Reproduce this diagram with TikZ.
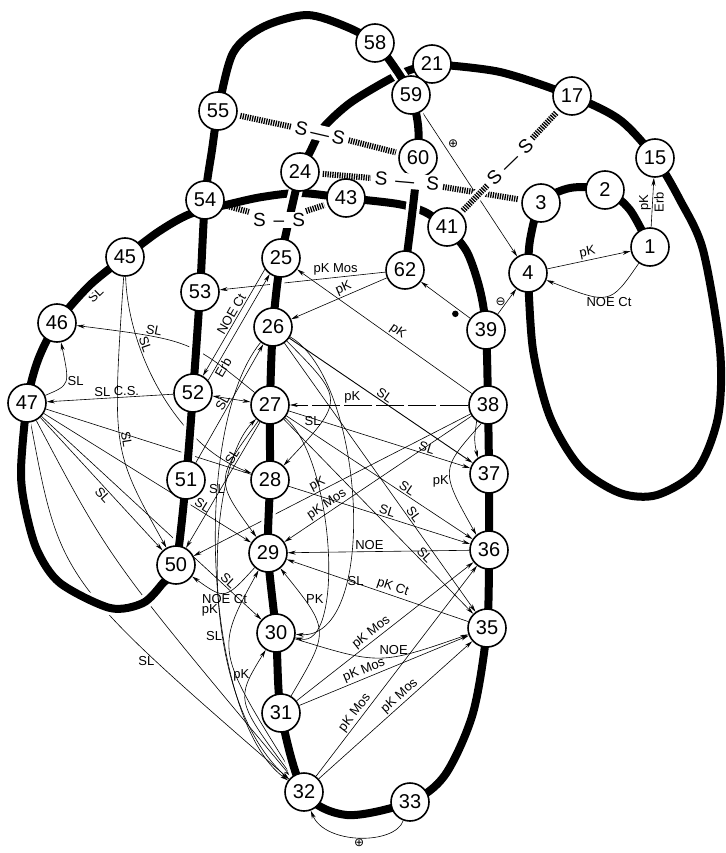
\documentclass[tikz,border=0pt]{standalone}
\usepackage{fontspec}
\setmainfont{Liberation Sans}
\newfontfamily\dejavu{DejaVu Sans}
\usetikzlibrary{arrows.meta}
\pgfdeclarelayer{links}
\pgfdeclarelayer{backbone}
\pgfsetlayers{links,backbone,main}

\begin{document}
\begin{tikzpicture}[x=1pt,y=-1pt,>={Stealth[length=8pt,width=4pt]}]
  \tikzstyle{res}=[draw, circle, line width=1.6pt, fill=white, minimum size=38pt, inner sep=0pt, font=\fontsize{20}{20}\selectfont]
  \tikzstyle{strand}=[line width=8pt, line join=round, preaction={draw, white, line width=14pt}]
  \tikzstyle{bond}=[line width=6pt, dash pattern=on 1.3pt off 1.1pt, shorten >=3pt, shorten <=3pt]
  \tikzstyle{ss}=[fill=white, inner sep=1pt, font=\fontsize{19}{19}\selectfont]
  \tikzstyle{lnk}=[->, line width=0.6pt]
  \tikzstyle{lbl}=[font=\fontsize{13}{13}\selectfont, inner sep=1.5pt]
  \tikzstyle{chg}=[font=\dejavu\fontsize{12}{12}\selectfont, inner sep=1pt]
  \tikzstyle{dot}=[circle, fill, inner sep=2.3pt]
  \useasboundingbox (0,0) rectangle (725,853);

  % residues
  \node[res] (r1) at (650,247) {1};
  \node[res] (r2) at (605,190) {2};
  \node[res] (r3) at (541,203) {3};
  \node[res] (r4) at (528,273) {4};
  \node[res] (r15) at (655,158) {15};
  \node[res] (r17) at (572,96) {17};
  \node[res] (r21) at (432,64) {21};
  \node[res] (r24) at (300,172) {24};
  \node[res] (r25) at (281,258) {25};
  \node[res] (r26) at (273,327) {26};
  \node[res] (r27) at (270,405) {27};
  \node[res] (r28) at (270,480) {28};
  \node[res] (r29) at (268,553) {29};
  \node[res] (r30) at (276,633) {30};
  \node[res] (r31) at (281,713) {31};
  \node[res] (r32) at (304,792) {32};
  \node[res] (r33) at (410,802) {33};
  \node[res] (r35) at (487,628) {35};
  \node[res] (r36) at (489,550) {36};
  \node[res] (r37) at (489,474) {37};
  \node[res] (r38) at (488,405) {38};
  \node[res] (r39) at (486,330) {39};
  \node[res] (r41) at (447,227) {41};
  \node[res] (r43) at (346,198) {43};
  \node[res] (r45) at (125,257) {45};
  \node[res] (r46) at (57,323) {46};
  \node[res] (r47) at (27,403) {47};
  \node[res] (r50) at (176,565) {50};
  \node[res] (r51) at (186,480) {51};
  \node[res] (r52) at (193,393) {52};
  \node[res] (r53) at (200,292) {53};
  \node[res] (r54) at (205,200) {54};
  \node[res] (r55) at (218,111) {55};
  \node[res] (r58) at (375,43) {58};
  \node[res] (r59) at (411,95) {59};
  \node[res] (r60) at (418,158) {60};
  \node[res] (r62) at (405,270) {62};

  % disulfide bridges
  \node[ss, rotate=-13] (ss1) at (320,133) {S\,—\,S};
  \node[ss, rotate=-5] (ss2) at (407,181) {S\hspace{8pt}—\hspace{12pt}S};
  \node[ss] (ss3) at (279,220) {S\hspace{8pt}–\hspace{8pt}S};
  \node[ss, rotate=44] (ss4) at (510,162) {S\hspace{6pt}—\hspace{6pt}S};
  \draw[bond] (r55) -- (ss1);
  \draw[bond] (ss1) -- (r60);
  \draw[bond] (r24) -- (ss2);
  \draw[bond] (ss2) -- (r3);
  \draw[bond] (r54) -- (ss3);
  \draw[bond] (ss3) -- (r43);
  \draw[bond, preaction={draw, white, line width=11pt}] (r41) -- (ss4);
  \draw[bond] (ss4) -- (r17);

  % backbone
  \begin{pgfonlayer}{backbone}
  \draw[strand] plot[smooth] coordinates {(432,64) (410,70) (388,80) (350,103) (323,128) (310,152) (300,172)};
  \draw[strand] plot[smooth] coordinates {(447,227) (425,212) (398,204) (346,198) (300,193) (262,197) (230,204) (190,214) (158,232) (125,257)};
  \draw[strand] plot[smooth] coordinates {(650,247) (630,210) (605,190) (570,188) (541,203) (530,240) (528,273)};
  \draw[strand] plot[smooth] coordinates {(528,273) (533,350) (550,417) (580,467) (620,493) (657,495) (697,470) (718,417) (720,350) (703,250) (680,200) (655,158) (620,120) (572,96) (500,72) (432,64)};
  \draw[strand] plot[smooth] coordinates {(300,172) (281,258) (273,327) (270,405) (270,480) (268,553) (276,633) (281,713) (304,792) (347,815) (410,802) (445,775) (473,713) (487,628) (489,550) (489,474) (488,405) (486,330) (480,290) (467,252) (447,227)};
  \draw[strand] plot[smooth] coordinates {(125,257) (90,285) (57,323) (38,360) (27,403) (21,470) (25,507) (37,550) (60,583) (110,608) (143,603) (163,583) (176,565) (186,480) (193,393) (200,292) (205,200) (212,150) (218,111) (233,53) (263,27) (307,15) (347,27) (375,43) (395,68) (411,95) (418,125) (418,158) (412,215) (405,270)};
  \end{pgfonlayer}

  % contacts
  \begin{pgfonlayer}{links}
  \draw[lnk] (r59) -- node[chg, pos=0.22, right=4pt] {⊕} (r4);
  \draw[lnk] (r1) -- node[lbl, rotate=90, anchor=south] {pK} node[lbl, rotate=90, anchor=north] {Erb} (r15);
  \draw[lnk] (r4) -- node[lbl, sloped, above] {pK} (r1);
  \draw[lnk] (r1) .. controls (610,305) .. node[lbl, below, pos=0.45] {NOE Ct} (r4);
  \draw[lnk] (r39) -- node[chg, left] {⊖} (r4);
  \draw[lnk] (r39) -- node[dot, pos=0.3, below=3pt] {} (r62);
  \draw[lnk] (r62) -- node[lbl, above, pos=0.3] {pK Mos} (r53);
  \draw[lnk] (r62) -- node[lbl, sloped, above, pos=0.42] {pK} (r26);
  \draw[lnk] (r38) -- node[lbl, sloped, above, pos=0.45] {pK} (r25);
  \draw[lnk, line width=0.9pt] (r26) -- node[lbl, sloped, above] {SL} (r37);
  \draw[lnk, dash pattern=on 28pt off 4pt] (r38) -- node[lbl, above, pos=0.65] {pK} (r27);
  \draw[lnk] (r38) -- node[lbl, sloped, above, pos=0.75] {pK Mos} (r29);
  \draw[lnk] (r38) -- node[lbl, sloped, above, pos=0.54] {pK} (r50);
  \draw[lnk] (r38.235) .. controls (474,440) .. (r37.125);
  \draw[lnk] (r38.250) .. controls (440,470) .. node[lbl, left, pos=0.6] {pK} (r36.130);
  \draw[lnk] (r26) -- node[lbl, sloped, above, pos=0.65] {SL} (r35);
  \draw[lnk] (r26) .. controls (345,400) .. node[lbl, left, pos=0.7] {SL} (r28);
  \draw[lnk] (r26) .. controls (365,380) and (380,640) .. node[lbl, right, pos=0.7] {SL} (r30);
  \draw[lnk] (r26) .. controls (190,430) and (205,720) .. node[lbl, left, pos=0.62] {SL} (r32);
  \draw[lnk] (r32) .. controls (195,700) and (205,470) .. node[lbl, left, pos=0.45] {pK} (r27);
  \draw[lnk] (r32) .. controls (235,700) .. node[lbl, left, pos=0.8] {pK} (r30);
  \draw[lnk] (r32) .. controls (215,650) .. (r29);
  \draw[lnk] (r27) .. controls (190,340) .. node[lbl, sloped, above, pos=0.7] {SL} (r46);
  \draw[lnk] (r27) -- node[lbl, sloped, above, pos=0.3] {SL} (r50);
  \draw[lnk] (r27) -- node[lbl, sloped, above, pos=0.75] {SL} (r37);
  \draw[lnk] (r27) -- node[lbl, sloped, above, pos=0.63] {SL} (r36);
  \draw[lnk] (r27) -- node[lbl, sloped, above, pos=0.72] {SL} (r35);
  \draw[lnk] (r27) .. controls (215,480) .. node[lbl, left, pos=0.6] {SL} (r29);
  \draw[lnk] (r27) .. controls (335,460) and (345,650) .. (r30);
  \draw[lnk, <->] (r52) -- (r27);
  \draw[lnk] (r47) .. controls (70,385) .. node[lbl, right] {SL} (r46);
  \draw[lnk] (r47) -- node[lbl, sloped, below, pos=0.55] {SL} (r50);
  \draw[lnk] (r47) -- node[lbl, sloped, above, pos=0.75] {SL} (r29);
  \draw[lnk] (r47) -- node[lbl, sloped, above, pos=0.83] {SL} (r30);
  \draw[lnk] (r47) -- node[lbl, sloped, above, pos=0.8] {SL} (r36);
  \draw[lnk] (r47) .. controls (60,580) .. node[lbl, left, pos=0.75] {SL} (r32);
  \draw[lnk] (r47) .. controls (110,560) .. (r32);
  \draw[lnk] (r45) -- node[lbl, sloped, below] {SL} (r46);
  \draw[lnk] (r45) .. controls (112,450) .. node[lbl, sloped, above] {SL} (r50);
  \draw[lnk] (r45) .. controls (128,350) and (175,445) .. node[lbl, sloped, above, pos=0.3] {SL} (r28);
  \draw[lnk] (r25.215) -- node[lbl, sloped, above, pos=0.45] {NOE Ct} (r52.60);
  \draw[lnk] (r52.40) -- node[lbl, sloped, below, pos=0.15] {Erb} (r25.235);
  \draw[lnk] (r52) -- node[lbl, above, pos=0.56] {SL} node[lbl, above, pos=0.37] {C.S.} (r47);
  \draw[lnk] (r51) -- node[lbl, sloped, above, pos=0.48] {SL} (r26);
  \draw[lnk] (r36) -- node[lbl, above, pos=0.55] {NOE} (r29);
  \draw[lnk] (r35) -- node[lbl, sloped, above, pos=0.43] {pK Ct} (r29);
  \draw[lnk] (r31) .. controls (330,630) .. node[lbl, right, pos=0.8] {PK} (r29);
  \draw[lnk] (r30) .. controls (380,665) .. node[lbl, above, pos=0.6] {NOE} (r35);
  \draw[lnk] (r31) -- node[lbl, sloped, above, pos=0.45] {pK Mos} (r36);
  \draw[lnk] (r31) -- node[lbl, sloped, above, pos=0.4] {pK Mos} (r35);
  \draw[lnk] (r32) -- node[lbl, sloped, above, pos=0.28] {pK Mos} (r36);
  \draw[lnk] (r32) -- node[lbl, sloped, above, pos=0.56] {pK Mos} (r35);
  \draw[lnk] (r33.250) .. controls (395,845) and (325,845) .. node[chg, below] {⊕} (r32.290);
  \draw[lnk] (r29) .. controls (225,600) .. node[lbl, below] {NOE Ct} (r50);
  \end{pgfonlayer}
\end{tikzpicture}
\end{document}
